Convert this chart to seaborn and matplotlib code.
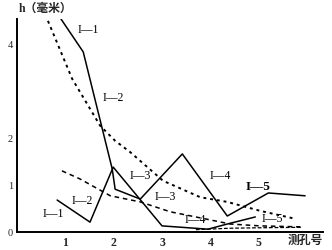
import matplotlib
matplotlib.use("Agg")
import matplotlib.pyplot as plt
import seaborn as sns
import pandas as pd

# ---- data ----
s1_x = [0.91, 1.37, 1.97, 2.03, 2.55, 3.42, 4.35, 5.20, 5.96]
s1_y = [4.53, 3.83, 1.34, 0.91, 0.70, 1.66, 0.34, 0.83, 0.77]

s2_x = [0.83, 1.51, 1.99, 3.00, 3.95, 4.35, 4.93]
s2_y = [0.68, 0.21, 1.38, 0.13, 0.06, 0.17, 0.32]

d1_x = [0.64, 1.14, 1.72, 2.03, 2.34, 3.02, 3.79, 4.35, 5.03, 5.76]
d1_y = [4.49, 3.26, 2.26, 1.94, 1.70, 1.09, 0.74, 0.64, 0.45, 0.28]

d2_x = [0.93, 1.30, 1.93, 2.55, 3.17, 3.89, 4.41, 5.03, 5.86]
d2_y = [1.30, 1.13, 0.77, 0.64, 0.43, 0.28, 0.17, 0.13, 0.11]

d3_x = [3.70, 4.40, 5.00, 5.90]
d3_y = [0.05, 0.08, 0.09, 0.10]

x_ticks = [1, 2, 3, 4, 5]
y_ticks = [0, 1, 2, 4]
y_tick_labels = ["0", "1", "2", "4"]

labels = ["I—1", "I—2", "I—3", "I—3", "I—4", "I—5", "I—4", "I—5", "I—1", "I—2"]
label_x = [1.47, 1.99, 2.55, 3.06, 4.20, 4.99, 3.69, 5.28, 0.75, 1.35]
label_y = [4.32, 2.87, 1.21, 0.77, 1.21, 0.98, 0.28, 0.30, 0.40, 0.68]
label_bold = [False, False, False, False, False, True, False, False, False, False]

y_title = "h（毫米）"
x_title = "测孔号"

# ---- build table ----
frames = []
for name, xs, ys in [("S1", s1_x, s1_y), ("S2", s2_x, s2_y),
                     ("D1", d1_x, d1_y), ("D2", d2_x, d2_y), ("D3", d3_x, d3_y)]:
    frames.append(pd.DataFrame({"x": xs, "y": ys, "series": name,
                                "order": range(len(xs))}))
df = pd.concat(frames, ignore_index=True)

sns.set_style("white")
plt.rcParams["font.family"] = ["Liberation Serif", "Noto Sans CJK SC", "DejaVu Sans"]

fig = plt.figure(figsize=(3.32, 2.51), dpi=100)
ax = fig.add_axes([17 / 332, 18 / 251, 306 / 332, 213 / 251])

styles = {
    "S1": dict(linestyle="-", lw=1.1),
    "S2": dict(linestyle="-", lw=1.1),
    "D1": dict(linestyle=(0, (1.5, 2.0)), lw=1.4),
    "D2": dict(linestyle=(0, (3, 2.5)), lw=1.1),
    "D3": dict(linestyle=(0, (3, 1.5)), lw=0.9),
}
for name, st in styles.items():
    sub = df[df["series"] == name]
    sns.lineplot(data=sub, x="x", y="y", sort=False, estimator=None,
                 color="black", ax=ax, legend=False, **st)

for t, lx, ly, b in zip(labels, label_x, label_y, label_bold):
    ax.text(lx, ly, t, ha="center", va="center",
            fontsize=9.5 if b else 8.5, fontweight="bold" if b else "normal",
            color="black")

ax.set_xlim(0, 6.33)
ax.set_ylim(0, 4.53)
ax.set_xticks(x_ticks)
ax.set_xticklabels([str(v) for v in x_ticks], fontsize=8.5, fontweight="bold")
ax.set_yticks(y_ticks)
ax.set_yticklabels(y_tick_labels, fontsize=7.5)
ax.tick_params(axis="both", length=0, pad=3)
ax.set_xlabel("")
ax.set_ylabel("")

for side in ["top", "right"]:
    ax.spines[side].set_visible(False)
for side in ["left", "bottom"]:
    ax.spines[side].set_color("black")
    ax.spines[side].set_linewidth(1.4)

fig.text(19 / 332, 1 - 9 / 251, y_title, fontsize=8.5, ha="left", va="center",
         fontweight="bold")
ax.text(5.96, -0.17, x_title, fontsize=8.5, ha="center", va="center",
        fontweight="bold")

fig.savefig("out.png", dpi=100)
